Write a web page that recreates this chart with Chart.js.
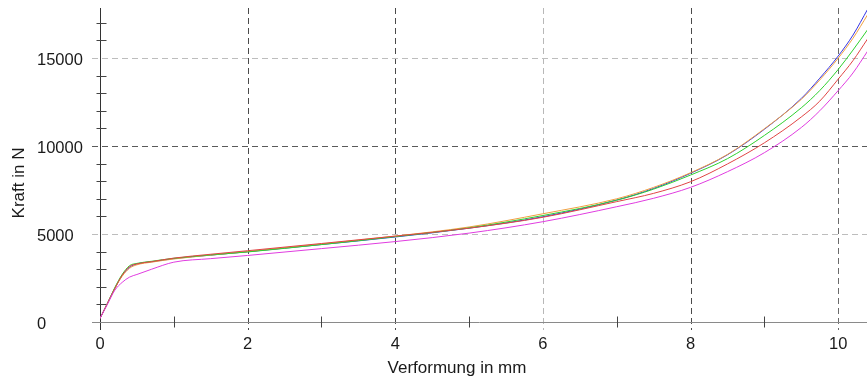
<!DOCTYPE html>
<html>
<head>
<meta charset="utf-8">
<script src="https://cdn.jsdelivr.net/npm/chart.js@4/dist/chart.umd.min.js"></script>
<style>
  html, body { margin: 0; padding: 0; background: #fff; }
  #wrap { width: 867px; height: 380px; }
</style>
</head>
<body>
<div id="wrap"><canvas id="c" width="867" height="380"></canvas></div>
<script>
// Deformation (mm) at which the force of each specimen was recorded
const deformation = [0, 0.1, 0.2, 0.3, 0.4, 0.5, 0.7, 1, 1.5, 2, 3, 4, 5, 6, 7, 7.5, 8, 8.5, 9, 9.5, 9.75, 10, 10.2, 10.4];

// Force (N) per specimen
const forceBlue    = [200, 1050, 1900, 2650, 3100, 3300, 3420, 3600, 3800, 3990, 4400, 4830, 5330, 5980, 6930, 7590, 8450, 9500, 10950, 12700, 13850, 15110, 16300, 17780];
const forceOrange  = [200, 1050, 1900, 2600, 3050, 3250, 3400, 3580, 3800, 4000, 4430, 4880, 5400, 6150, 7000, 7650, 8480, 9520, 10980, 12650, 13750, 14990, 16120, 17470];
const forceGreen   = [200, 1050, 1950, 2700, 3200, 3330, 3450, 3620, 3810, 3980, 4400, 4850, 5350, 6050, 6920, 7550, 8350, 9280, 10600, 12170, 13150, 14350, 15450, 16620];
const forceRed     = [200, 1050, 1900, 2650, 3150, 3300, 3430, 3630, 3850, 4050, 4460, 4880, 5330, 5950, 6840, 7310, 7970, 8980, 10180, 11650, 12550, 13800, 14850, 16100];
const forceMagenta = [200, 1000, 1800, 2250, 2550, 2700, 3000, 3400, 3600, 3780, 4170, 4570, 5050, 5700, 6550, 7030, 7650, 8540, 9620, 11050, 12000, 13150, 14150, 15400];

// Axis ticks
const xMajorTicks = [0, 2, 4, 6, 8, 10];
const yMajorTicks = [0, 5000, 10000, 15000];

const specimens = [
  { name: 'Probe 5', values: forceMagenta, color: '#e03ce0' },
  { name: 'Probe 4', values: forceRed,     color: '#e04444' },
  { name: 'Probe 3', values: forceGreen,   color: '#2ed02e' },
  { name: 'Probe 2', values: forceOrange,  color: '#f0a040' },
  { name: 'Probe 1', values: forceBlue,    color: '#3434e4' }
];

const FONT = '"Liberation Sans", Arial, sans-serif';
const TEXT = '#1a1a1a';

// Dashed grid, axis lines, tick marks crossing the axes, force labels and axis titles
const frame = {
  id: 'frame',
  beforeDatasetsDraw(chart) {
    const { ctx, chartArea: a, scales: { x, y } } = chart;
    const px = v => Math.round(x.getPixelForValue(v)) + 0.5;
    const py = v => Math.round(y.getPixelForValue(v)) + 0.5;
    ctx.save();
    ctx.lineWidth = 1;
    ctx.setLineDash([6, 4]);
    const vCol = { 2: '#4a4a4a', 4: '#4a4a4a', 6: '#b8b8b8', 8: '#4a4a4a', 10: '#6a6a6a' };
    xMajorTicks.filter(v => v > 0).forEach(v => {
      ctx.strokeStyle = vCol[v];
      ctx.beginPath();
      ctx.moveTo(px(v), a.top);
      ctx.lineTo(px(v), a.bottom + 8);
      ctx.stroke();
    });
    const hCol = { 5000: '#bdbdbd', 10000: '#5a5a5a', 15000: '#bdbdbd' };
    yMajorTicks.filter(v => v > 0).forEach(v => {
      ctx.strokeStyle = hCol[v];
      ctx.beginPath();
      ctx.moveTo(a.left - 8, py(v));
      ctx.lineTo(a.right, py(v));
      ctx.stroke();
    });
    ctx.setLineDash([]);
    // axis lines
    ctx.strokeStyle = '#333';
    ctx.beginPath();
    ctx.moveTo(px(0), a.top);
    ctx.lineTo(px(0), a.bottom + 8);
    ctx.stroke();
    ctx.strokeStyle = '#8a8a8a';
    ctx.beginPath();
    ctx.moveTo(a.left - 8, py(0));
    ctx.lineTo(a.right, py(0));
    ctx.stroke();
    // tick marks
    ctx.strokeStyle = '#444';
    for (let v = 1000; v <= y.max; v += 1000) {
      if (v % 5000 === 0) continue;
      ctx.beginPath();
      ctx.moveTo(px(0) - 4, py(v));
      ctx.lineTo(px(0) + 6, py(v));
      ctx.stroke();
    }
    for (let v = 1; v <= x.max; v += 1) {
      if (v % 2 === 0) continue;
      ctx.beginPath();
      ctx.moveTo(px(v), py(0) - 6);
      ctx.lineTo(px(v), py(0) + 5);
      ctx.stroke();
    }
    // force labels, left aligned
    ctx.fillStyle = TEXT;
    ctx.font = '16.5px ' + FONT;
    ctx.textAlign = 'left';
    ctx.textBaseline = 'middle';
    yMajorTicks.forEach(v => ctx.fillText(String(v), 37, y.getPixelForValue(v) + 2));
    ctx.restore();
  },
  afterDraw(chart) {
    const { ctx } = chart;
    ctx.save();
    ctx.fillStyle = TEXT;
    ctx.font = '17px ' + FONT;
    ctx.textAlign = 'center';
    ctx.textBaseline = 'middle';
    ctx.fillText('Verformung in mm', 457, 368);
    ctx.translate(19, 183);
    ctx.rotate(-Math.PI / 2);
    ctx.fillText('Kraft in N', 0, 0);
    ctx.restore();
  }
};

new Chart(document.getElementById('c'), {
  type: 'line',
  data: {
    datasets: specimens.map(s => ({
      label: s.name,
      data: deformation.map((d, i) => ({ x: d, y: s.values[i] })),
      borderColor: s.color,
      borderWidth: 1,
      pointRadius: 0,
      fill: false,
      cubicInterpolationMode: 'monotone'
    }))
  },
  options: {
    responsive: false,
    animation: false,
    devicePixelRatio: 1,
    layout: { padding: { top: 8, right: 0, left: 37, bottom: 0 } },
    plugins: { legend: { display: false }, tooltip: { enabled: false } },
    scales: {
      x: {
        type: 'linear',
        min: 0,
        max: 10.39,
        grid: { display: false, drawTicks: false, tickLength: 0 },
        border: { display: false },
        ticks: {
          stepSize: 1,
          maxTicksLimit: 100,
          includeBounds: false,
          autoSkip: false,
          maxRotation: 0,
          padding: 13,
          color: TEXT,
          font: { family: FONT, size: 16.5 },
          callback: v => xMajorTicks.includes(v) ? String(v) : ''
        },
        afterFit: s => { s.height = 58; s.paddingLeft = 0; s.paddingRight = 0; }
      },
      y: {
        type: 'linear',
        min: 0,
        max: 17840,
        grid: { display: false, drawTicks: false, tickLength: 0 },
        border: { display: false },
        ticks: {
          display: false,
          stepSize: 1000,
          maxTicksLimit: 100,
          includeBounds: false
        },
        afterFit: s => { s.width = 63; s.paddingTop = 0; s.paddingBottom = 0; }
      }
    }
  },
  plugins: [frame]
});
</script>
</body>
</html>
